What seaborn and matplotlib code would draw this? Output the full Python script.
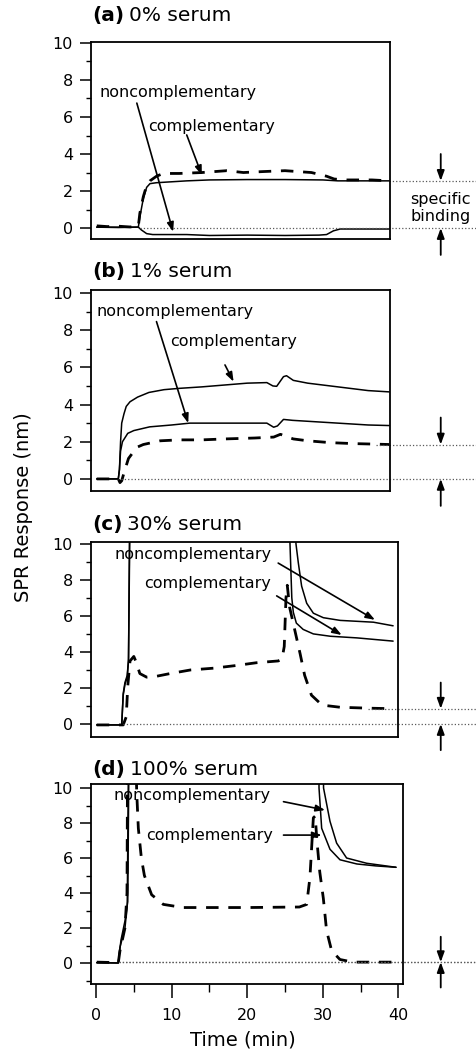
import matplotlib
matplotlib.use("Agg")
import matplotlib.pyplot as plt
from matplotlib.ticker import MultipleLocator
import pandas as pd
import seaborn as sns

# panel titles
panel_tags = ["(a)", "(b)", "(c)", "(d)"]
panel_names = ["0% serum", "1% serum", "30% serum", "100% serum"]

# (a) 0% serum
a_comp_t = [0.1, 1.5, 3.0, 4.5, 5.6, 5.8, 6.26, 6.7, 7.14, 8.0, 8.9, 11.0, 14.0, 17.3, 19.5, 22.0, 25.0, 28.5, 30.5, 31.5, 33.0, 36.5, 38.8]
a_comp_y = [0.12, 0.08, 0.1, 0.06, 0.1, 0.8, 1.7, 2.3, 2.55, 2.8, 2.95, 2.95, 3.0, 3.1, 3.0, 3.05, 3.1, 3.0, 2.8, 2.65, 2.6, 2.6, 2.55]
a_high_t = [0.1, 3.0, 5.6, 5.8, 6.26, 6.7, 7.14, 8.0, 10.0, 12.0, 15.0, 20.0, 25.0, 30.0, 32.0, 38.8]
a_high_y = [0.05, 0.05, 0.05, 0.6, 1.6, 2.2, 2.4, 2.45, 2.5, 2.55, 2.6, 2.62, 2.62, 2.6, 2.55, 2.55]
a_non_t = [0.1, 3.0, 5.6, 6.0, 6.7, 7.5, 12.0, 15.0, 20.0, 25.0, 29.5, 30.5, 31.4, 32.3, 38.8]
a_non_y = [0.05, 0.03, 0.05, -0.1, -0.3, -0.35, -0.35, -0.4, -0.38, -0.4, -0.38, -0.35, -0.15, -0.05, -0.05]

# (b) 1% serum
b_comp_t = [0.1, 2.95, 3.1, 3.25, 3.4, 3.7, 4.0, 4.5, 5.5, 7.0, 9.0, 11.0, 14.0, 17.0, 20.0, 22.6, 23.4, 23.9, 24.8, 25.2, 26.1, 28.0, 30.0, 33.0, 36.0, 38.8]
b_comp_y = [0, 0, 0.5, 2.0, 3.0, 3.5, 3.9, 4.15, 4.4, 4.65, 4.8, 4.87, 4.95, 5.05, 5.15, 5.18, 5.0, 4.98, 5.5, 5.55, 5.3, 5.15, 5.05, 4.9, 4.75, 4.68]
b_non_t = [0.1, 2.95, 3.1, 3.25, 3.5, 4.2, 5.0, 7.1, 10.0, 12.4, 17.0, 22.6, 23.5, 24.0, 24.8, 26.0, 28.0, 32.0, 36.0, 38.8]
b_non_y = [0, 0, 0.5, 1.5, 2.0, 2.45, 2.6, 2.8, 2.9, 3.0, 3.0, 3.0, 2.78, 2.85, 3.2, 3.15, 3.1, 3.0, 2.9, 2.87]
b_dash_t = [0.1, 2.95, 3.17, 3.4, 3.83, 4.3, 5.4, 6.26, 8.5, 11.0, 14.0, 17.0, 21.0, 23.5, 24.4, 25.0, 26.1, 28.0, 31.0, 34.0, 37.0, 38.8]
b_dash_y = [0, 0, -0.2, -0.1, 0.5, 1.1, 1.7, 1.85, 2.05, 2.1, 2.1, 2.15, 2.2, 2.25, 2.4, 2.3, 2.15, 2.05, 1.95, 1.9, 1.87, 1.85]

# (c) 30% serum  (14 = off scale)
c_comp_t = [0.1, 3.4, 3.6, 3.83, 4.13, 4.3, 4.5, 25.6, 25.66, 25.9, 26.1, 26.5, 27.4, 28.75, 31.0, 34.5, 39.3]
c_comp_y = [-0.05, -0.05, 1.6, 2.2, 2.6, 3.5, 14, 14, 10, 7.0, 6.2, 5.6, 5.25, 5.0, 4.87, 4.78, 4.6]
c_non_t = [0.1, 3.4, 3.6, 3.83, 4.13, 4.3, 4.55, 26.3, 26.45, 26.76, 27.2, 27.87, 28.75, 30.07, 32.3, 36.7, 39.3]
c_non_y = [-0.05, -0.05, 1.7, 2.3, 2.7, 3.6, 14, 14, 10, 8.95, 7.65, 6.7, 6.15, 5.9, 5.75, 5.65, 5.45]
c_dash_t = [0.1, 3.6, 4.0, 4.2, 4.5, 5.0, 5.3, 5.8, 6.7, 8.0, 9.8, 12.5, 15.6, 18.6, 21.2, 24.1, 24.6, 24.9, 25.13, 25.3, 25.6, 26.3, 27.0, 27.6, 28.5, 29.9, 32.3, 36.0, 39.3]
c_dash_y = [-0.05, -0.05, 0.4, 2.1, 3.5, 3.75, 3.45, 2.8, 2.6, 2.65, 2.8, 3.0, 3.1, 3.25, 3.4, 3.5, 3.6, 4.3, 7.0, 7.7, 6.5, 5.2, 3.9, 2.7, 1.6, 1.05, 0.93, 0.88, 0.85]

# (d) 100% serum
d_comp_t = [0.1, 2.95, 3.17, 3.83, 4.13, 4.35, 29.45, 29.5, 29.85, 30.95, 32.27, 34.5, 37.0, 39.68]
d_comp_y = [0.02, 0.0, 0.9, 2.0, 3.3, 14, 14, 10, 7.7, 6.5, 5.9, 5.66, 5.55, 5.47]
d_non_t = [0.1, 2.95, 3.3, 3.83, 4.2, 4.4, 30.0, 30.1, 30.95, 31.83, 33.15, 35.8, 39.68]
d_non_y = [0.02, 0.0, 1.3, 2.4, 3.5, 14, 14, 10, 8.1, 6.85, 6.0, 5.7, 5.47]
d_dash_t = [0.1, 2.95, 3.17, 3.83, 4.1, 4.2, 5.2, 5.38, 5.6, 6.0, 6.4, 7.36, 8.9, 11.5, 20.0, 26.9, 27.87, 28.3, 28.75, 29.0, 29.2, 29.6, 30.07, 30.5, 31.17, 32.27, 34.0, 39.68]
d_dash_y = [0.05, 0.02, 0.7, 2.0, 4.0, 14, 14, 9.8, 7.7, 6.0, 5.0, 3.9, 3.35, 3.17, 3.17, 3.2, 3.35, 4.9, 8.3, 8.4, 7.1, 5.2, 3.7, 1.85, 0.7, 0.2, 0.05, 0.05]

# baseline levels marked on the right (lower, upper) and where the dotted guide starts
ref_low = [0.0, 0.0, 0.0, 0.05]
ref_high = [2.55, 1.85, 0.85, 0.05]
ref_low_start = [5.8, 3.3, 3.6, 3.0]
ref_high_start = [38.8, 37.0, 36.0, 3.0]

# label text positions and arrow (tail, head) in data units
non_text = [(0.5, 7.3), (0.1, 9.0), (2.5, 9.4), (2.3, 9.55)]
non_arrow = [((5.4, 6.75), (10.2, -0.2)), ((8.0, 8.46), (12.2, 3.0)),
             ((24.1, 8.93), (36.9, 5.78)), ((24.8, 9.22), (30.3, 8.74))]
comp_text = [(6.9, 5.5), (9.8, 7.4), (6.3, 7.8), (6.6, 7.3)]
comp_arrow = [((12.0, 5.03), (14.0, 2.86)), ((17.06, 6.13), (18.2, 5.23)),
              ((23.9, 7.11), (32.5, 4.94)), ((24.8, 7.31), (29.85, 7.31))]

solid_series = [
    [(a_high_t, a_high_y), (a_non_t, a_non_y)],
    [(b_comp_t, b_comp_y), (b_non_t, b_non_y)],
    [(c_comp_t, c_comp_y), (c_non_t, c_non_y)],
    [(d_comp_t, d_comp_y), (d_non_t, d_non_y)],
]
dashed_series = [(a_comp_t, a_comp_y), (b_dash_t, b_dash_y), (c_dash_t, c_dash_y), (d_dash_t, d_dash_y)]

sns.set_style("ticks")
plt.rcParams["font.family"] = ["DejaVu Sans"]
plt.rcParams.update({"text.color": "black", "axes.labelcolor": "black",
                     "xtick.color": "black", "ytick.color": "black"})

W, H = 477, 1057
fig = plt.figure(figsize=(W / 100, H / 100), dpi=100)

# axes boxes in pixels (left, top, right, bottom) and y limits
boxes = [(91, 42, 390, 239), (91, 290, 390, 491), (91, 542, 398, 737), (91, 784, 403, 984)]
ylims = [(-0.59, 10.05), (-0.65, 10.16), (-0.72, 10.1), (-1.2, 10.23)]
title_base = [21, 277, 530, 775]
px_per_min = 7.56
x_zero_px = 96

for i in range(4):
    l, t, r, b = boxes[i]
    ax = fig.add_axes([l / W, 1 - b / H, (r - l) / W, (b - t) / H])

    for tt, yy in solid_series[i]:
        df = pd.DataFrame({"t": tt, "y": yy})
        sns.lineplot(data=df, x="t", y="y", ax=ax, color="black", lw=1.1,
                     estimator=None, sort=False)
    tt, yy = dashed_series[i]
    df = pd.DataFrame({"t": tt, "y": yy})
    sns.lineplot(data=df, x="t", y="y", ax=ax, color="black", lw=2.0,
                 linestyle=(0, (4.5, 3.5)), estimator=None, sort=False)

    x_end = 50.5
    for lvl, x0 in [(ref_low[i], ref_low_start[i]), (ref_high[i], ref_high_start[i])]:
        ax.plot([x0, x_end], [lvl, lvl], ls=":", lw=0.9, color="0.35", clip_on=False)

    xa = 45.6
    ax.annotate("", xy=(xa, ref_high[i]), xytext=(xa, ref_high[i] + 1.45),
                arrowprops=dict(arrowstyle="-|>,head_length=0.6,head_width=0.22",
                                lw=1.3, color="black", shrinkA=0, shrinkB=0),
                annotation_clip=False)
    ax.annotate("", xy=(xa, ref_low[i]), xytext=(xa, ref_low[i] - 1.45),
                arrowprops=dict(arrowstyle="-|>,head_length=0.6,head_width=0.22",
                                lw=1.3, color="black", shrinkA=0, shrinkB=0),
                annotation_clip=False)
    if i == 0:
        ax.text(xa, 1.1, "specific\nbinding", ha="center", va="center",
                fontsize=11.5, linespacing=1.15, clip_on=False)

    arrow_kw = dict(arrowstyle="-|>,head_length=0.55,head_width=0.2",
                    lw=1.2, color="black", shrinkA=0, shrinkB=0)
    ax.text(*non_text[i], "noncomplementary", ha="left", va="center", fontsize=11.5)
    ax.annotate("", xy=non_arrow[i][1], xytext=non_arrow[i][0], arrowprops=arrow_kw)
    ax.text(*comp_text[i], "complementary", ha="left", va="center", fontsize=11.5)
    ax.annotate("", xy=comp_arrow[i][1], xytext=comp_arrow[i][0], arrowprops=arrow_kw)

    ax.set_xlim((l - x_zero_px) / px_per_min, (r - x_zero_px) / px_per_min)
    ax.set_ylim(*ylims[i])
    ax.set(xlabel="", ylabel="")
    ax.yaxis.set_major_locator(MultipleLocator(2))
    ax.yaxis.set_minor_locator(MultipleLocator(1))
    ax.xaxis.set_major_locator(MultipleLocator(10))
    ax.xaxis.set_minor_locator(MultipleLocator(5))
    ax.tick_params(axis="y", which="major", direction="out", length=8, width=1.1,
                   labelsize=11.5, pad=5)
    ax.tick_params(axis="y", which="minor", direction="out", length=3.6, width=1.0)
    if i == 3:
        ax.tick_params(axis="x", which="major", direction="out", length=10, width=1.1,
                       labelsize=11.5, pad=7)
        ax.tick_params(axis="x", which="minor", direction="out", length=5.5, width=1.0)
    else:
        ax.tick_params(axis="x", which="both", bottom=False, labelbottom=False)
    for sp in ax.spines.values():
        sp.set_visible(True)
        sp.set_linewidth(1.3)
        sp.set_color("black")

    tag = fig.text(92.7 / W, 1 - title_base[i] / H, panel_tags[i], fontsize=14.5,
                   fontweight="bold", va="baseline", ha="left")
    fig.canvas.draw()
    bb = tag.get_window_extent()
    fig.text((bb.x1 + 4) / W, 1 - title_base[i] / H, panel_names[i], fontsize=14.5,
             va="baseline", ha="left")

fig.text(24 / W, 1 - 507 / H, "SPR Response (nm)", rotation=90, ha="center",
         va="center", fontsize=14)
fig.text(243 / W, 1 - 1040 / H, "Time (min)", ha="center", va="center", fontsize=14)

fig.savefig("out.png", dpi=100)
